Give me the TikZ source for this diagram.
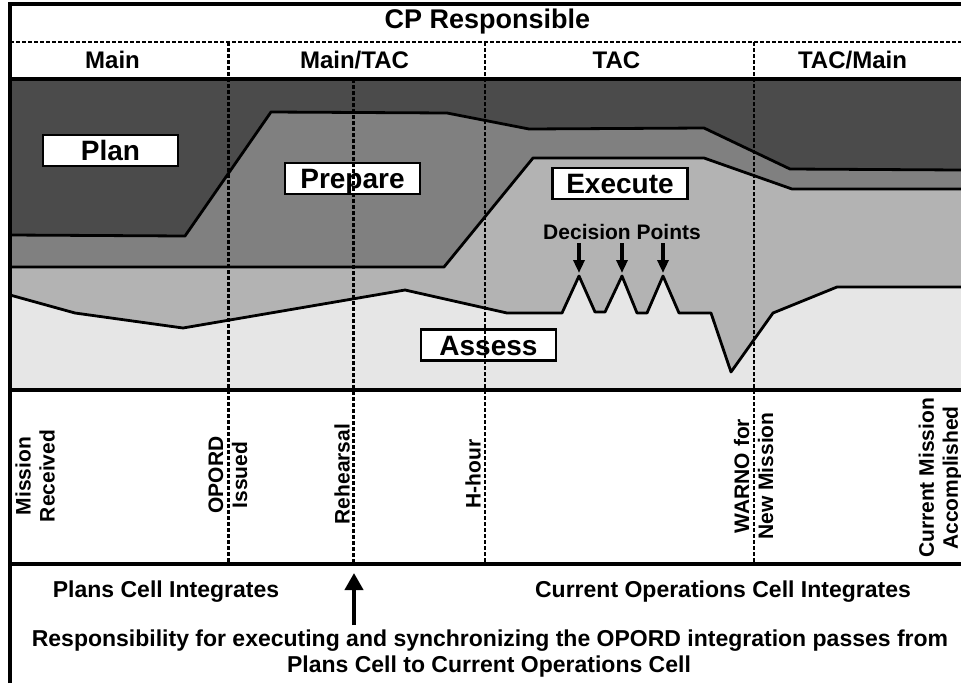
\documentclass[tikz,border=0pt]{standalone}
\usepackage{fontspec}
\setmainfont{Liberation Sans}
\usetikzlibrary{arrows.meta}
\definecolor{plancol}{HTML}{4B4B4B}
\definecolor{prepcol}{HTML}{808080}
\definecolor{execcol}{HTML}{B3B3B3}
\definecolor{asscol}{HTML}{E6E6E6}
\tikzset{
  titletext/.style={font=\fontsize{27}{30}\selectfont\bfseries, anchor=base, inner sep=0pt},
  hdrtext/.style={font=\fontsize{24}{28}\selectfont\bfseries, anchor=base, inner sep=0pt},
  phasebox/.style={draw, line width=2.5pt, fill=white, minimum width=135pt, minimum height=31pt,
    inner sep=0pt, text height=20pt, text depth=0pt, font=\fontsize{28}{30}\selectfont\bfseries},
  eventtext/.style={rotate=90, align=center, font=\fontsize{21}{24}\selectfont\bfseries, inner sep=0pt},
  notetext/.style={font=\fontsize{23}{26}\selectfont\bfseries, anchor=base, inner sep=0pt},
  dptext/.style={font=\fontsize{21}{24}\selectfont\bfseries, anchor=base, inner sep=0pt},
  bound/.style={line width=2.8pt, line join=round},
  solidrule/.style={line width=3.5pt},
  seprule/.style={line width=2.6pt, dash pattern=on 4pt off 2pt},
  dparrow/.style={line width=3.5pt, -{Triangle[length=13pt,width=11pt]}},
  bigarrow/.style={line width=4pt, -{Triangle[length=17pt,width=18pt]}}
}
\begin{document}
\begin{tikzpicture}[x=1pt,y=-1pt]
\useasboundingbox (0,0) rectangle (961,683);
\fill[white] (0,0) rectangle (961,683);

% chart layers
\fill[plancol] (10,79) rectangle (961,390);
\fill[prepcol] (10,235) -- (185,236) -- (271,112) -- (447,113) -- (529,129) -- (704,128) -- (790,169) -- (961,170) -- (961,390) -- (10,390) -- cycle;
\fill[execcol] (10,267) -- (444,267) -- (533,158) -- (704,158) -- (792,189) -- (961,189) -- (961,390) -- (10,390) -- cycle;
\fill[asscol] (10,295) -- (75,313) -- (183,328) -- (405,290) -- (507,313) -- (562,313) -- (579,276) -- (595,312) -- (605,312) -- (622,276) -- (637,313) -- (647,313) -- (663,276) -- (679,313) -- (711,313) -- (731,372) -- (773,313) -- (837,287) -- (961,287) -- (961,390) -- (10,390) -- cycle;
\draw[bound] (10,235) -- (185,236) -- (271,112) -- (447,113) -- (529,129) -- (704,128) -- (790,169) -- (961,170);
\draw[bound] (10,267) -- (444,267) -- (533,158) -- (704,158) -- (792,189) -- (961,189);
\draw[bound] (10,295) -- (75,313) -- (183,328) -- (405,290) -- (507,313) -- (562,313) -- (579,276) -- (595,312) -- (605,312) -- (622,276) -- (637,313) -- (647,313) -- (663,276) -- (679,313) -- (711,313) -- (731,372) -- (773,313) -- (837,287) -- (961,287);

% phase labels
\node[phasebox] (plan) at (110.5,150.5) {Plan};
\node[phasebox] (prepare) at (352.5,178.5) {Prepare};
\node[phasebox] (execute) at (620,183.5) {Execute};
\node[phasebox] (assess) at (488.5,345) {Assess};

% decision points
\node[dptext] (dp) at (622,239) {Decision Points};
\coordinate (d1s) at (579,243); \coordinate (d1e) at (579,273);
\coordinate (d2s) at (622,243); \coordinate (d2e) at (622,273);
\coordinate (d3s) at (663,243); \coordinate (d3e) at (663,273);
\draw[dparrow] (d1s) -- (d1e);
\draw[dparrow] (d2s) -- (d2e);
\draw[dparrow] (d3s) -- (d3e);

% frame and rules
\draw[seprule] (10,42) -- (961,42);
\draw[solidrule] (10,79) -- (961,79);
\draw[solidrule] (10,390) -- (961,390);
\draw[solidrule] (10,564) -- (961,564);
\draw[solidrule, line join=miter] (10,683) -- (10,4) -- (961,4);
\draw[seprule] (228.5,42) -- (228.5,564);
\draw[seprule] (353.5,79) -- (353.5,564);
\draw[seprule] (485,42) -- (485,564);
\draw[seprule] (754,42) -- (754,564);

% header
\node[titletext] (cp) at (487.5,28) {CP Responsible};
\node[hdrtext] (hmain) at (112.5,68) {Main};
\node[hdrtext] (hmaintac) at (354.5,68) {Main/TAC};
\node[hdrtext] (htac) at (616.5,68) {TAC};
\node[hdrtext] (htacmain) at (852.5,68) {TAC/Main};

% events
\node[eventtext] (ev1) at (35,476) {Mission\\Received};
\node[eventtext] (ev2) at (228,475) {OPORD\\Issued};
\node[eventtext] (ev3) at (342,474) {Rehearsal};
\node[eventtext] (ev4) at (473,474) {H-hour};
\node[eventtext] (ev5) at (753.5,476) {WARNO for\\New Mission};
\node[eventtext] (ev6) at (940.5,478) {Current Mission\\Accomplished};

% bottom notes
\node[notetext] (plans) at (166,597) {Plans Cell Integrates};
\node[notetext] (curops) at (723,597) {Current Operations Cell Integrates};
\node[notetext] (resp1) at (490,646) {Responsibility for executing and synchronizing the OPORD integration passes from};
\node[notetext] (resp2) at (489,672) {Plans Cell to Current Operations Cell};
\coordinate (ars) at (354,625);
\coordinate (are) at (354,573);
\draw[bigarrow] (ars) -- (are);
\end{tikzpicture}
\end{document}
